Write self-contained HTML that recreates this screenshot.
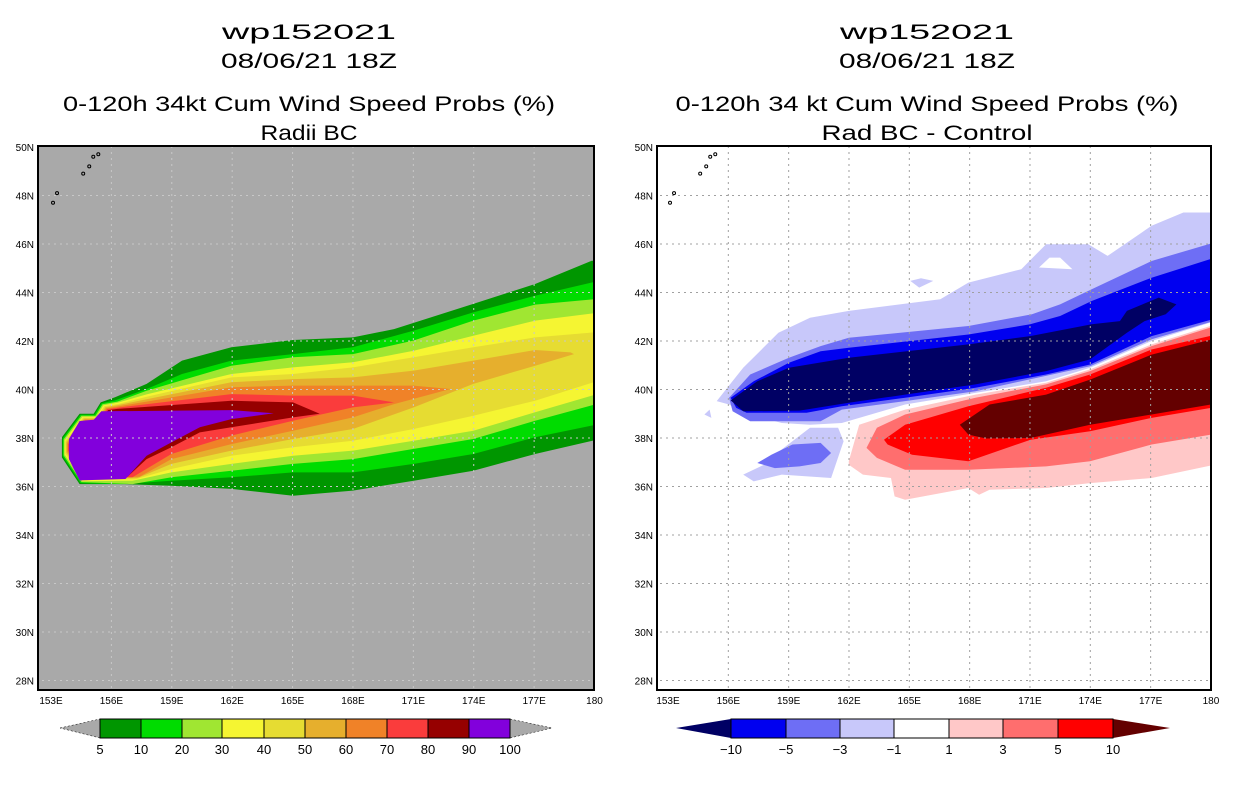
<!DOCTYPE html>
<html><head><meta charset="utf-8">
<style>
body{margin:0;background:#fff;width:1236px;height:800px;overflow:hidden;font-family:"Liberation Sans",sans-serif}
svg{position:absolute;left:0;top:0}
</style></head>
<body>
<svg id="s" width="1236" height="800" xmlns="http://www.w3.org/2000/svg">
<defs>
<clipPath id="cl"><rect x="38" y="146" width="556" height="544"/></clipPath>
<clipPath id="cr"><rect x="657" y="146" width="554" height="544"/></clipPath>
</defs>
<g font-size="21" text-anchor="middle" fill="#000">
<text x="309" y="39" textLength="174" lengthAdjust="spacingAndGlyphs">wp152021</text>
<text x="309" y="68" textLength="176" lengthAdjust="spacingAndGlyphs">08/06/21 18Z</text>
<text x="309" y="111" textLength="492" lengthAdjust="spacingAndGlyphs">0-120h 34kt Cum Wind Speed Probs (%)</text>
<text x="309" y="140" textLength="97" lengthAdjust="spacingAndGlyphs">Radii BC</text>
<text x="927" y="39" textLength="174" lengthAdjust="spacingAndGlyphs">wp152021</text>
<text x="927" y="68" textLength="176" lengthAdjust="spacingAndGlyphs">08/06/21 18Z</text>
<text x="927" y="111" textLength="503" lengthAdjust="spacingAndGlyphs">0-120h 34 kt Cum Wind Speed Probs (%)</text>
<text x="927" y="140" textLength="211" lengthAdjust="spacingAndGlyphs">Rad BC - Control</text>
</g>
<g id="gl" clip-path="url(#cl)"></g>
<g id="gr" clip-path="url(#cr)"></g>
<g id="ax"></g>
</svg>
<script>
const NS="http://www.w3.org/2000/svg";
const lonTicks=[153,156,159,162,165,168,171,174,177,180];
const lonLabels=["153E","156E","159E","162E","165E","168E","171E","174E","177E","180"];
const latTicks=[28,30,32,34,36,38,40,42,44,46,48,50];
const probLevels=[5,10,20,30,40,50,60,70,80,90,100];
const probColors=["#009600","#00dc00","#a0e632","#f5f532","#e6dc32","#e6af2d","#f08228","#fa3c3c","#960000","#8200dc"];
const diffLabels=["-10","-5","-3","-1","1","3","5","10"];
const diffColors=["#000064","#0000f0","#6e6ef5","#c8c8fa","#ffffff","#ffc8c8","#ff6e6e","#ff0000","#640000"];
const probTops=[
[[156.18,39.68],[157.75,40.23],[159.51,41.19],[161.96,41.74],[165.02,42.04],[168,42.15],[170.04,42.49],[173.98,43.53],[177.05,44.35],[179.86,45.31],[181,45.31]],
[[156.18,39.55],[157.75,40.02],[159.51,40.64],[161.96,41.19],[165.02,41.46],[168,41.74],[171.02,42.43],[173.98,43.18],[177.05,43.87],[181,44.63]],
[[156.3,39.5],[157.75,39.95],[161.96,40.98],[165.02,41.33],[168,41.46],[171.02,42.02],[173.98,42.84],[177.05,43.5],[181,43.8]],
[[156.3,39.45],[157.75,39.8],[161.96,40.64],[165.02,40.91],[168,41.12],[171.02,41.6],[173.98,42.22],[177.05,42.84],[181,43.25]],
[[156.3,39.4],[157.75,39.7],[161.96,40.5],[165.02,40.64],[168,40.91],[171.02,41.33],[173.98,41.74],[177.05,42.15],[181,42.43]],
[[156.3,39.35],[157.75,39.6],[161.96,40.3],[165.02,40.43],[168,40.5],[171.02,40.78],[173.98,41.19],[177.05,41.63],[178.81,41.53],[178.98,41.46]],
[[156.3,39.3],[157.75,39.5],[161.96,40.09],[165.02,40.16],[168,40.16],[171.02,40.16],[172.84,40.02]],
[[156.3,39.25],[161.96,39.81],[165.02,39.75],[168,39.75],[170.04,39.47]],
[[156.3,39.2],[161.96,39.54],[165.02,39.47],[166.35,39.0]],
[[155.5,39.1],[161.96,39.15],[164.07,39.02]]
];
const probBottoms=[
[[181,38.1],[177.05,37.34],[173.98,36.65],[171.02,36.24],[168,35.83],[165.02,35.62],[161.96,35.9],[158.98,36.03],[156.53,36.1]],
[[181,38.71],[177.05,38.03],[173.98,37.34],[171.02,36.93],[168,36.58],[165.02,36.58],[161.96,36.38],[158.98,36.24],[156.53,36.1]],
[[181,39.6],[177.05,38.71],[173.98,37.96],[171.02,37.55],[168,37.13],[165.02,36.93],[161.96,36.65],[158.98,36.38],[157.05,36.1]],
[[181,40.02],[177.05,39.06],[173.98,38.3],[171.02,37.89],[168,37.48],[165.02,37.27],[161.96,36.93],[158.98,36.58],[157.05,36.24]],
[[181,40.57],[177.05,39.54],[173.98,38.92],[171.02,38.37],[168,37.89],[165.02,37.62],[161.96,37.27],[158.98,36.72],[157.2,36.3]],
[[177.05,40.98],[173.98,40.23],[171.02,39.26],[168,38.37],[165.02,37.96],[161.96,37.48],[158.98,36.93],[157.3,36.35]],
[[170.04,39.4],[168,38.85],[165.02,38.3],[161.96,37.75],[158.98,37.13],[157.4,36.4]],
[[168,39.26],[165.02,38.71],[161.96,38.1],[158.98,37.34],[157.05,36.38]],
[[165.02,38.85],[161.96,38.44],[160.39,38.23],[158.98,37.62],[157.75,37.13],[156.8,36.4]],
[[161.96,38.78],[160.39,38.44],[158.98,37.82],[157.75,37.27],[156.7,36.31],[154.42,36.25],[153.89,37.13],[153.89,37.96],[154.42,38.7],[155.12,38.75]]
];
const noseOutline=[[154.42,36.1],[153.54,37.2],[153.54,38.03],[154.42,39.0],[155.12,39.0],[155.47,39.47]];
const diffLightBlue=[[155.42,39.52],[156.74,40.9],[158.49,42.34],[160.06,42.96],[161.99,43.24],[166.54,43.72],[167.94,44.41],[170.57,44.96],[171.8,45.99],[173.9,45.99],[174.86,45.51],[177.05,46.75],[178.63,47.3],[181,47.3],[181,43.03],[177.05,42.0],[173.99,40.9],[171.8,40.34],[168.29,39.86],[164.79,39.38],[161.64,38.62],[160.06,38.55],[158.66,38.62],[156.74,39.04],[156.04,39.38]];
const diffLightBlue2=[[156.74,36.49],[157.79,36.9],[158.31,37.31],[160.06,38.42],[161.46,38.42],[161.73,37.87],[161.11,36.35],[158.66,36.49],[157.26,36.21]];
const diffLightBlue3=[[154.81,38.97],[155.07,39.17],[155.16,38.83]];
const diffLightBlue4=[[165.05,44.48],[165.58,44.59],[166.19,44.48],[165.49,44.2]];
const diffHole=[[171.45,45.03],[171.97,45.44],[172.5,45.44],[173.11,44.96]];
const diffMedBlue=[[156.04,39.66],[157.09,40.62],[159.01,41.31],[160.59,41.79],[161.99,42.13],[167.94,42.62],[171.1,43.1],[172.5,43.51],[174.07,44.13],[177.05,45.3],[181,46.27],[181,43.03],[177.05,42.07],[173.99,40.96],[168.29,39.93],[164.79,39.52],[161.64,39.17],[160.59,38.69],[157.09,38.69],[156.21,39.1]];
const diffMedBlue2=[[157.44,36.97],[158.14,37.31],[159.19,37.73],[160.59,37.8],[161.11,37.38],[160.59,36.97],[159.54,36.83],[158.31,36.76]];
const diffBlue=[[156.12,39.66],[157.26,40.34],[159.01,41.1],[160.59,41.58],[161.99,41.72],[167.94,42.27],[171.01,42.69],[172.5,43.03],[174.07,43.65],[177.05,44.61],[181,45.65],[181,43.1],[177.05,42.2],[173.99,41.03],[171.8,40.62],[168.29,40.07],[164.79,39.66],[161.64,39.31],[159.89,39.04],[156.91,39.04],[156.39,39.24]];
const diffNavy=[[156.12,39.55],[157.44,40.34],[159.01,40.9],[161.99,41.31],[167.94,41.86],[171.01,42.2],[174.07,42.69],[175.47,42.82],[175.82,43.24],[177.4,43.79],[178.28,43.51],[177.75,43.1],[176.7,42.82],[175.82,42.34],[173.99,41.24],[171.8,40.76],[168.29,40.21],[164.79,39.79],[161.99,39.45],[159.54,39.13],[156.74,39.1]];
const diffPink=[[161.99,37.04],[162.51,38.55],[164.79,39.17],[168.29,39.79],[171.8,40.28],[173.99,40.83],[177.05,41.86],[181,42.89],[181,37.04],[177.05,36.35],[173.99,36.14],[171.8,35.94],[168.99,35.87],[168.47,35.66],[167.94,35.94],[164.79,35.45],[164.27,35.59],[164.09,36.35],[162.69,36.49],[161.99,36.9]];
const diffSalmon=[[162.87,37.59],[163.39,38.42],[164.79,38.97],[168.29,39.66],[171.8,40.21],[173.99,40.76],[177.05,41.79],[181,42.82],[181,38.28],[177.05,37.73],[173.99,37.04],[171.8,36.83],[167.94,36.69],[164.79,36.69],[163.39,37.18]];
const diffRed=[[163.74,37.93],[164.79,38.55],[167.94,39.31],[171.8,40.07],[173.99,40.62],[177.05,41.65],[181,42.41],[181,39.38],[177.05,38.83],[173.99,38.28],[171.03,37.93],[167.94,37.04],[165.14,37.31],[163.92,37.73]];
const diffDarkRed=[[167.51,38.55],[168.99,39.38],[171.8,39.79],[173.99,40.41],[177.05,41.44],[181,42.27],[181,39.52],[177.05,38.97],[173.99,38.55],[171.03,38.0],[168.82,37.98],[167.94,38.14]];

function xL(lon){return 51+(lon-153)*20.13;}
function xR(lon){return 668+(lon-153)*20.11;}
function yM(lat){return 147+(50-lat)*24.25;}
function el(tag,attrs,parent){const e=document.createElementNS(NS,tag);for(const k in attrs)e.setAttribute(k,attrs[k]);parent.appendChild(e);return e;}
function poly(parent,pts,xf,fill,name){
  const p=el('polygon',{points:pts.map(q=>xf(q[0]).toFixed(1)+','+yM(q[1]).toFixed(1)).join(' '),fill:fill},parent);
  
  
  return p;
}
const gl=document.getElementById('gl'),gr=document.getElementById('gr'),ax=document.getElementById('ax');
el('rect',{x:38,y:146,width:556,height:544,fill:'#a9a9a9'},gl);
el('rect',{x:657,y:146,width:554,height:544,fill:'#ffffff'},gr);
for(let i=0;i<probTops.length;i++){
  let pts;
  if(i<probTops.length-1){
    const d=i*0.045,dy=i*0.04;
    const nose=noseOutline.map(q=>[q[0]+d,q[1]+(q[1]<37.6?dy:-dy)]);
    pts=probTops[i].concat(probBottoms[i],nose);
  } else pts=probTops[i].concat(probBottoms[i]);
  poly(gl,pts,xL,probColors[i],'prob-contour-'+probLevels[i]);
}
poly(gr,diffLightBlue,xR,diffColors[3],'diff-minus1-area');
poly(gr,diffLightBlue2,xR,diffColors[3],'diff-minus1-south-area');
poly(gr,diffLightBlue3,xR,diffColors[3],'diff-minus1-islet');
poly(gr,diffLightBlue4,xR,diffColors[3],'diff-minus1-islet-north');
poly(gr,diffHole,xR,'#ffffff','diff-hole');
poly(gr,diffMedBlue,xR,diffColors[2],'diff-minus3-area');
poly(gr,diffMedBlue2,xR,diffColors[2],'diff-minus3-south-area');
poly(gr,diffBlue,xR,diffColors[1],'diff-minus5-area');
poly(gr,diffNavy,xR,diffColors[0],'diff-minus10-area');
poly(gr,diffPink,xR,diffColors[5],'diff-plus1-area');
poly(gr,diffSalmon,xR,diffColors[6],'diff-plus3-area');
poly(gr,diffRed,xR,diffColors[7],'diff-plus5-area');
poly(gr,diffDarkRed,xR,diffColors[8],'diff-plus10-area');
[[gl,xL,'#c8c8c8'],[gr,xR,'#a0a0a0']].forEach(([g,xf,c])=>{
  lonTicks.slice(1,-1).forEach(l=>{const e=el('line',{x1:xf(l),x2:xf(l),y1:146,y2:690,stroke:c,'stroke-width':1,'stroke-dasharray':'2,4'},g);});
  latTicks.slice(0,-1).forEach(l=>{const e=el('line',{x1:30,x2:1220,y1:yM(l),y2:yM(l),stroke:c,'stroke-width':1,'stroke-dasharray':'2,4'},g);});
  [[155.1,49.6],[155.35,49.7],[154.9,49.2],[154.6,48.9],[153.3,48.1],[153.1,47.7]].forEach(q=>{const e=el('ellipse',{cx:xf(q[0]),cy:yM(q[1]),rx:1.5,ry:1.5,fill:'none',stroke:'#000','stroke-width':1},g);});
});
[[38,594,xL],[657,1211,xR]].forEach(([x0,x1,xf],pi)=>{
  const f=el('rect',{x:x0,y:146,width:x1-x0,height:544,fill:'none',stroke:'#000','stroke-width':2},ax);
  
  lonTicks.forEach((l,i)=>{
    const t=el('text',{x:xf(l),y:704,'font-size':10,'text-anchor':'middle'},ax);t.textContent=lonLabels[i];
    
  });
  latTicks.forEach(l=>{
    const t=el('text',{x:x0-4,y:yM(l)+4,'font-size':10,'text-anchor':'end'},ax);t.textContent=l+'N';
    
  });
});
const cbL=[100,141,182,222,264,305,346,387,428,469,510];
let tri=el('polygon',{points:'60,728 100,719 100,738',fill:'#a9a9a9',stroke:'#000','stroke-width':0.5,'stroke-dasharray':'2,2'},ax);

tri=el('polygon',{points:'510,719 552,728 510,738',fill:'#a9a9a9',stroke:'#000','stroke-width':0.5,'stroke-dasharray':'2,2'},ax);

probColors.forEach((c,i)=>{
  const r=el('rect',{x:cbL[i],y:719,width:cbL[i+1]-cbL[i],height:19,fill:c,stroke:'#000','stroke-width':1},ax);
  
});
probLevels.forEach((v,i)=>{
  const t=el('text',{x:cbL[i],y:754,'font-size':13,'text-anchor':'middle'},ax);t.textContent=v;
  
});
const cbR=[731,786,840,894,949,1003,1058,1113];
tri=el('polygon',{points:'676,728 731,719 731,738',fill:diffColors[0]},ax);

tri=el('polygon',{points:'1113,719 1170,728 1113,738',fill:diffColors[8]},ax);

for(let i=0;i<cbR.length-1;i++){
  const r=el('rect',{x:cbR[i],y:719,width:cbR[i+1]-cbR[i],height:19,fill:diffColors[i+1],stroke:'#000','stroke-width':1},ax);
  
}
diffLabels.forEach((v,i)=>{
  const t=el('text',{x:cbR[i],y:754,'font-size':13,'text-anchor':'middle'},ax);t.textContent=v.replace('-','\u2212');
  
});
</script>
</body></html>
